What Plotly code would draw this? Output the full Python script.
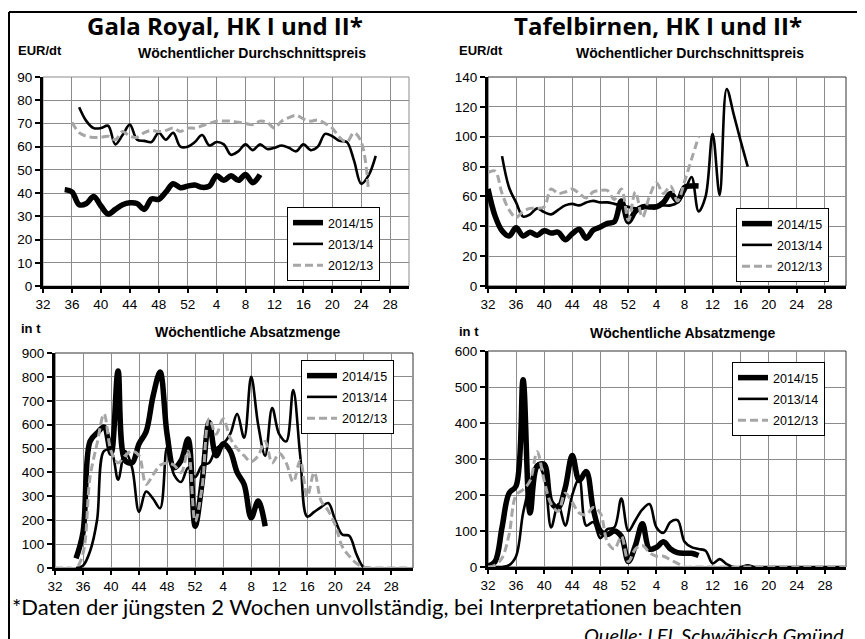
import plotly.graph_objects as go

# ---------------- data ----------------
# week index: 32..52 = calendar weeks 32..52, 53.. = weeks 1.. of next year
week_tickvals = [32, 36, 40, 44, 48, 52, 56, 60, 64, 68, 72, 76, 80]
week_ticktext = ["32", "36", "40", "44", "48", "52", "4", "8", "12", "16", "20", "24", "28"]
series_names = ["2014/15", "2013/14", "2012/13"]

# Gala Royal - weekly average price (EUR/dt)
gala_price_1415_start = 35
gala_price_1415 = [41.5, 40.5, 35, 35.5, 38.5, 34.5, 31, 33, 35, 35.8, 35.5, 33, 37.5, 37.3,
                   40.5, 44, 42.3, 43, 43.5, 42.5, 43, 47.5, 45.5, 47.5, 45.5, 48, 44.5, 48]
gala_price_1314_start = 37
gala_price_1314 = [77, 71, 68, 68, 69, 61, 65, 69.5, 63, 62.5, 62, 66, 63, 66, 60, 60, 62, 65,
                   60.5, 62, 61, 56.5, 58, 61, 58.5, 61, 59, 59.5, 60.5, 59.5, 58, 61, 58.5,
                   60, 65.5, 64.5, 62.5, 62, 54, 44, 47.5, 56]
gala_price_1213_start = 36
gala_price_1213 = [70.5, 66, 64.5, 64, 64, 64.5, 63, 66.5, 64.5, 64, 66, 67, 66.5, 67, 68, 66.5,
                   68, 68, 69, 70, 71, 71, 71, 70.5, 70, 69.5, 71, 70.5, 68, 71, 72.5, 73.5,
                   72, 71, 71.5, 70, 68, 64, 62, 66, 62, 41]

# Tafelbirnen - weekly average price (EUR/dt)
pear_price_1415_start = 32
pear_price_1415 = [65, 47, 37, 33.5, 39, 33.5, 36, 34, 37, 35.5, 36, 31, 35, 38, 32, 37.5,
                   39.5, 42, 43, 57, 43, 50, 53, 53, 53, 56, 62, 57, 66, 67, 67]
pear_price_1314_start = 34
pear_price_1314 = [87, 66, 56, 46.5, 48, 52, 49.5, 48, 51, 54, 55, 54, 56, 57, 56, 56, 55, 54,
                   53, 52, 52, 53, 54, 54, 54, 56, 63, 73, 50, 60, 102, 61, 132, 115, 97, 80]
pear_price_1213_start = 32
pear_price_1213 = [76, 77, 62, 51, 46, 50, 52, 52, 53, 65, 62, 63, 65, 62, 59, 63, 64, 64, 58,
                   65, 44, 63, 46, 60, 69, 62, 67, 57, 70, 85, 100]

# Gala Royal - weekly sales volume (t)
gala_vol_1415_start = 35
gala_vol_1415 = [40, 150, 530, 565, 590, 480, 825, 450, 440, 520, 570, 720, 820, 560, 420, 450,
                 540, 175, 360, 610, 470, 520, 490, 400, 350, 210, 280, 175]
gala_vol_1314_start = 35
gala_vol_1314 = [0, 10, 70, 200, 490, 490, 370, 490, 420, 235, 320, 290, 250, 505, 390, 360,
                 420, 380, 430, 440, 500, 520, 560, 645, 545, 800, 600, 470, 670, 560, 530,
                 745, 470, 215, 235, 255, 272, 200, 140, 135, 60, 5, 0]
gala_vol_1213_start = 32
gala_vol_1213 = [0, 0, 0, 0, 60, 380, 520, 645, 490, 440, 470, 490, 470, 350, 390, 430, 440,
                 430, 400, 490, 195, 340, 625, 560, 625, 545, 500, 470, 445, 470, 530, 440,
                 480, 440, 360, 450, 300, 400, 280, 240, 180, 90, 50, 20, 5, 0, 0, 0, 0, 0,
                 0, 0]

# Tafelbirnen - weekly sales volume (t)
pear_vol_1415_start = 32
pear_vol_1415 = [2, 15, 110, 205, 225, 520, 150, 280, 285, 180, 165, 220, 310, 240, 265, 160,
                 100, 90, 100, 85, 15, 60, 120, 50, 55, 70, 50, 40, 38, 38, 32]
pear_vol_1314_start = 32
pear_vol_1314 = [0, 0, 0, 5, 30, 150, 230, 285, 250, 110, 175, 115, 200, 245, 115, 125, 80,
                 105, 110, 190, 100, 130, 160, 175, 110, 95, 125, 130, 70, 55, 50, 45, 10, 22,
                 8, 0, 0, 5, 0, 0, 0, 0, 0, 0, 0, 0, 0, 0, 0, 0, 0, 0]
pear_vol_1213_start = 32
pear_vol_1213 = [0, 5, 25, 90, 200, 215, 240, 320, 240, 175, 155, 205, 180, 150, 145, 165,
                 150, 70, 50, 85, 15, 50, 60, 40, 30, 30, 20, 10, 0, 0, 0, 0, 0, 0, 0, 0, 0,
                 0, 0, 0, 0, 0, 0, 0, 0, 0, 0, 0, 0, 0, 0, 0]

# ---------------- styling ----------------
W, H = 865, 639
OFF = 8  # page body margin offset of the figure inside the window
FONT = "Arial, Liberation Sans, sans-serif"
TITLE_FONT = "Open Sans, Noto Sans, sans-serif"
FOOT_FONT = "Lato, Noto Sans, sans-serif"
GREY = "#a6a6a6"
styles = [
    dict(color="black", width=5.5, dash="solid"),
    dict(color="black", width=2.6, dash="solid"),
    dict(color=GREY, width=3, dash="8px,4px"),
]


def px_x(x):
    return (x - OFF) / W


def px_y(y):
    return 1 - (y - OFF) / H


panels = [
    dict(ax="x", ay="y", lg="legend", xpx=(43, 409), ypx=(77, 286), xmax=82.6, ymax=90, dtick=10,
         data=[(gala_price_1415_start, gala_price_1415), (gala_price_1314_start, gala_price_1314),
               (gala_price_1213_start, gala_price_1213)], leg=(287, 207), frame="#8c8c8c"),
    dict(ax="x2", ay="y2", lg="legend2", xpx=(488, 846), ypx=(77, 286), xmax=83, ymax=140, dtick=20,
         data=[(pear_price_1415_start, pear_price_1415), (pear_price_1314_start, pear_price_1314),
               (pear_price_1213_start, pear_price_1213)], leg=(736, 208), frame="#333333"),
    dict(ax="x3", ay="y3", lg="legend3", xpx=(55, 413), ypx=(353, 568), xmax=83.1, ymax=900, dtick=100,
         data=[(gala_vol_1415_start, gala_vol_1415), (gala_vol_1314_start, gala_vol_1314),
               (gala_vol_1213_start, gala_vol_1213)], leg=(301, 360), frame="#333333"),
    dict(ax="x4", ay="y4", lg="legend4", xpx=(488, 846), ypx=(351, 567), xmax=83, ymax=600, dtick=100,
         data=[(pear_vol_1415_start, pear_vol_1415), (pear_vol_1314_start, pear_vol_1314),
               (pear_vol_1213_start, pear_vol_1213)], leg=(732, 362), frame="#333333"),
]

fig = go.Figure()
layout = dict(
    width=W, height=H, margin=dict(l=0, r=0, t=0, b=0, pad=0, autoexpand=False),
    paper_bgcolor="white", plot_bgcolor="white",
    font=dict(family=FONT, color="black", size=12),
    showlegend=True,
)
shapes = []

for i, p in enumerate(panels):
    for j, (start, vals) in enumerate(p["data"]):
        xs = list(range(start, start + len(vals)))
        st = styles[j]
        fig.add_trace(go.Scatter(
            x=xs, y=vals, mode="lines", name=series_names[j],
            line=dict(color=st["color"], width=st["width"], dash=st["dash"],
                      shape="spline", smoothing=1.0),
            xaxis=p["ax"], yaxis=p["ay"], legend=p["lg"],
            legendgroup=f"g{i}{j}", showlegend=True, hoverinfo="skip",
        ))
    axn = "" if i == 0 else str(i + 1)
    layout["xaxis" + axn] = dict(
        domain=[px_x(p["xpx"][0]), px_x(p["xpx"][1])], anchor=p["ay"],
        range=[32, p["xmax"]], tickmode="array", tickvals=week_tickvals, ticktext=week_ticktext,
        showgrid=True, gridcolor="#8c8c8c", gridwidth=1, zeroline=False,
        showline=True, linecolor="black", linewidth=3,
        ticks="outside", ticklen=4, tickwidth=2, tickcolor="black",
        tickfont=dict(family=FONT, size=13.5, color="black"), fixedrange=True,
        automargin=False,
    )
    layout["yaxis" + axn] = dict(
        domain=[px_y(p["ypx"][1]), px_y(p["ypx"][0])], anchor=p["ax"],
        range=[0, p["ymax"]], dtick=p["dtick"], tick0=0,
        showgrid=True, gridcolor="#8c8c8c", gridwidth=1, zeroline=False,
        showline=True, linecolor="black", linewidth=3,
        ticks="outside", ticklen=5, tickwidth=2, tickcolor="black",
        tickfont=dict(family=FONT, size=13.5, color="black"), fixedrange=True,
        automargin=False,
    )
    layout[p["lg"]] = dict(
        x=px_x(p["leg"][0]), y=px_y(p["leg"][1]), xanchor="left", yanchor="top",
        bgcolor="white", bordercolor="black", borderwidth=1,
        font=dict(family=FONT, size=12.5, color="black"),
        tracegroupgap=2, itemclick=False, itemdoubleclick=False,
    )
    shapes.append(dict(type="rect", xref=p["ax"] + " domain", yref=p["ay"] + " domain",
                       x0=0, x1=1, y0=0, y1=1, line=dict(color=p["frame"], width=1),
                       layer="below"))

# outer frame
shapes.append(dict(type="line", xref="paper", yref="paper", x0=px_x(9), x1=1.0,
                   y0=px_y(12), y1=px_y(12), line=dict(color="black", width=2)))
shapes.append(dict(type="line", xref="paper", yref="paper", x0=px_x(9), x1=px_x(9),
                   y0=0, y1=px_y(12), line=dict(color="black", width=2)))
layout["shapes"] = shapes


def ann(text, x, y, size, bold=False, family=FONT, italic=False, xanchor="center"):
    t = f"<b>{text}</b>" if bold else text
    if italic:
        t = f"<i>{t}</i>"
    return dict(text=t, x=px_x(x), y=px_y(y), xref="paper", yref="paper",
                xanchor=xanchor, yanchor="middle", showarrow=False,
                font=dict(family=family, size=size, color="black"))


layout["annotations"] = [
    ann("Gala Royal, HK I und II*", 225, 26, 24, bold=True, family=TITLE_FONT),
    ann("Tafelbirnen, HK I und II*", 658, 26, 24, bold=True, family=TITLE_FONT),
    ann("EUR/dt", 16, 51, 13, bold=True, xanchor="left"),
    ann("Wöchentlicher Durchschnittspreis", 252, 53, 14, bold=True),
    ann("EUR/dt", 457, 51, 13, bold=True, xanchor="left"),
    ann("Wöchentlicher Durchschnittspreis", 690, 53, 14, bold=True),
    ann("in t", 19, 328, 13, bold=True, xanchor="left"),
    ann("Wöchentliche Absatzmenge", 248, 332, 14, bold=True),
    ann("in t", 457, 331, 13, bold=True, xanchor="left"),
    ann("Wöchentliche Absatzmenge", 683, 333, 14, bold=True),
    ann("*Daten der jüngsten 2 Wochen unvollständig, bei Interpretationen beachten",
        10, 606, 22, family=FOOT_FONT, xanchor="left"),
    ann("Quelle: LEL Schwäbisch Gmünd", 582, 635, 20, family=FOOT_FONT, italic=True,
        xanchor="left"),
]

fig.update_layout(**layout)
fig.write_html("out.html")
